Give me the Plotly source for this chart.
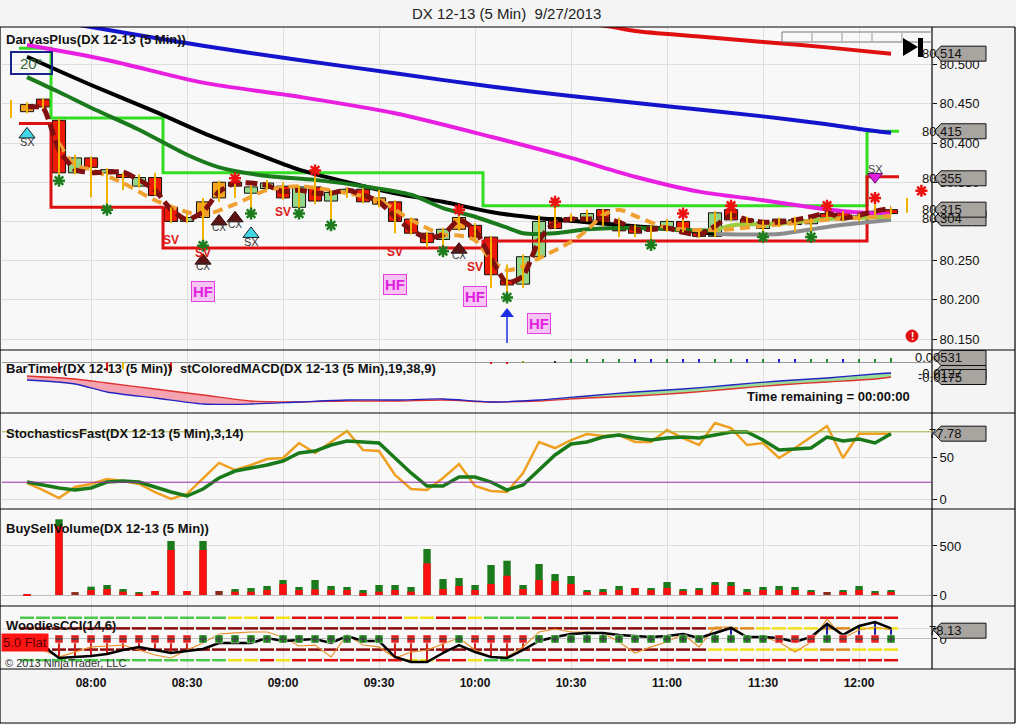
import pandas as pd
import plotly.graph_objects as go

FONT = "Arial, Liberation Sans, sans-serif"

# 5 minute bars, 07:40 .. 12:10
bar_times = pd.date_range("2013-09-27 07:40", "2013-09-27 12:10", freq="5min")
N = len(bar_times)

opens = [80.440, 80.456, 80.429, 80.362, 80.381, 80.362, 80.360, 80.345, 80.356, 80.318,
         80.300, 80.305, 80.330, 80.350, 80.336, 80.342, 80.345, 80.318, 80.344, 80.326,
         80.337, 80.341, 80.322, 80.325, 80.303, 80.285, 80.277, 80.290, 80.295, 80.280,
         80.225, 80.220, 80.255, 80.305, 80.305, 80.302, 80.315, 80.296, 80.292, 80.290,
         80.293, 80.300, 80.288, 80.281, 80.315, 80.303, 80.291, 80.303, 80.302, 80.297,
         80.310, 80.311, 80.307, 80.313, 80.310]
closes = [80.449, 80.446, 80.362, 80.381, 80.369, 80.366, 80.356, 80.356, 80.333, 80.300,
          80.305, 80.325, 80.350, 80.345, 80.344, 80.349, 80.330, 80.344, 80.326, 80.337,
          80.341, 80.325, 80.330, 80.300, 80.285, 80.273, 80.290, 80.305, 80.280, 80.232,
          80.219, 80.255, 80.300, 80.291, 80.302, 80.310, 80.298, 80.288, 80.285, 80.288,
          80.300, 80.287, 80.281, 80.311, 80.302, 80.298, 80.299, 80.298, 80.296, 80.302,
          80.305, 80.303, 80.304, 80.310, 80.315]
highs = [80.452, 80.457, 80.431, 80.385, 80.383, 80.368, 80.362, 80.360, 80.362, 80.318,
         80.310, 80.330, 80.352, 80.355, 80.346, 80.353, 80.350, 80.346, 80.365, 80.340,
         80.343, 80.342, 80.340, 80.327, 80.305, 80.287, 80.292, 80.315, 80.298, 80.281,
         80.245, 80.258, 80.308, 80.325, 80.310, 80.315, 80.316, 80.305, 80.296, 80.295,
         80.303, 80.310, 80.289, 80.313, 80.320, 80.306, 80.301, 80.305, 80.306, 80.304,
         80.320, 80.313, 80.310, 80.330, 80.318]
lows = [80.438, 80.444, 80.352, 80.360, 80.331, 80.315, 80.340, 80.343, 80.333, 80.298,
        80.298, 80.269, 80.325, 80.330, 80.310, 80.340, 80.328, 80.310, 80.322, 80.295,
        80.330, 80.323, 80.318, 80.285, 80.283, 80.267, 80.262, 80.288, 80.278, 80.215,
        80.203, 80.215, 80.250, 80.290, 80.300, 80.300, 80.294, 80.280, 80.280, 80.270,
        80.287, 80.286, 80.279, 80.280, 80.300, 80.294, 80.280, 80.293, 80.287, 80.280,
        80.303, 80.300, 80.300, 80.308, 80.309]
candle_col = list("orrgrgrgrr" "goorggrgrg" "grorrrgorr" "rggrrgrrrr" "grrgrrgrrg" "rrrrr")

# moving averages (bar index, value)
blue_idx = [0, 6, 11, 17, 23, 29, 34, 40, 46, 50, 52, 54]
blue_val = [80.562, 80.541, 80.524, 80.506, 80.489, 80.472, 80.460, 80.447, 80.434, 80.424, 80.418, 80.413]
red_idx = [30, 36, 38, 42, 46, 50, 54]
red_val = [80.560, 80.550, 80.543, 80.536, 80.529, 80.522, 80.514]
mag_idx = [0, 5, 11, 17, 23, 29, 34, 38, 42, 46, 49, 51, 54]
mag_val = [80.525, 80.506, 80.477, 80.459, 80.438, 80.408, 80.381, 80.357, 80.338, 80.327, 80.318, 80.313, 80.309]
black_idx = [0, 4, 8, 11, 14, 17, 20, 23, 26, 29, 32, 35, 38, 41, 43]
black_val = [80.510, 80.474, 80.440, 80.413, 80.389, 80.366, 80.350, 80.336, 80.325, 80.312, 80.304, 80.299, 80.294, 80.289, 80.284]
gray_idx = [43, 47, 50, 54]
gray_val = [80.284, 80.284, 80.293, 80.302]
dkgreen_idx = [0, 2, 4, 7, 10, 12, 15, 18, 21, 24, 26, 28, 30, 31, 33, 35, 38, 41, 43]
dkgreen_val = [80.484, 80.465, 80.445, 80.417, 80.385, 80.369, 80.358, 80.353, 80.345, 80.334,
               80.317, 80.306, 80.292, 80.285, 80.285, 80.290, 80.292, 80.289, 80.288]
olive_idx = [43, 44, 47, 50, 54]
olive_val = [80.288, 80.295, 80.297, 80.303, 80.306]
maroon = [80.446, 80.445, 80.391, 80.366, 80.362, 80.363, 80.363, 80.353, 80.340, 80.315,
          80.302, 80.312, 80.338, 80.349, 80.349, 80.346, 80.338, 80.340, 80.336, 80.336,
          80.340, 80.334, 80.325, 80.306, 80.289, 80.279, 80.283, 80.302, 80.289, 80.253,
          80.221, 80.230, 80.276, 80.299, 80.303, 80.303, 80.304, 80.299, 80.290, 80.290,
          80.292, 80.286, 80.283, 80.294, 80.308, 80.302, 80.299, 80.299, 80.302, 80.306,
          80.311, 80.304, 80.308, 80.313, 80.317]
orange_idx = [2, 3, 4, 6, 8, 10, 11, 13, 15, 17, 18, 20, 22, 24, 26, 27, 28, 29, 30, 31,
              32, 34, 35, 36, 37, 38, 40, 43, 46, 50, 54]
orange_val = [80.400, 80.372, 80.366, 80.349, 80.327, 80.312, 80.308, 80.322, 80.340, 80.345,
              80.343, 80.336, 80.327, 80.302, 80.283, 80.282, 80.276, 80.251, 80.238, 80.243,
              80.253, 80.274, 80.289, 80.308, 80.315, 80.307, 80.292, 80.289, 80.294, 80.302, 80.307]

# darvas boxes
box_start = [0, 2, 9, 29, 53]
box_top = [80.521, 80.432, 80.362, 80.320, 80.415]
box_bot = [80.425, 80.318, 80.266, 80.275, 80.357]

# signals
red_star_bars = [13, 18, 27, 33, 41, 44, 50, 53]
green_star_bars = [2, 5, 11, 14, 17, 19, 26, 30, 39, 46, 49]
sv_bars = [9, 11, 16, 23, 28]
sv_price = [80.276, 80.260, 80.312, 80.261, 80.242]
hf_bars = [11, 23, 28, 32]
hf_price = [80.210, 80.220, 80.204, 80.170]
cx_bars = [11, 12, 13, 27]
cx_price = [80.250, 80.300, 80.304, 80.264]
sx_up_bars = [0, 14]
sx_up_price = [80.411, 80.284]
sx_dn_bars = [53]
sx_dn_price = [80.357]
ghost_idx = [-1, 55]
ghost_lo = [80.432, 80.311]
ghost_hi = [80.455, 80.330]
ghost_star_idx = [55.9]
ghost_star_val = [80.339]

# stColoredMACD
macd_idx = [0, 3, 5, 8, 11, 14, 17, 20, 23, 26, 29, 32, 35, 38, 41, 44, 47, 50, 53, 54]
macd_val = [-0.0163, -0.0199, -0.0247, -0.0319, -0.0391, -0.0463, -0.0475, -0.0463, -0.0463, -0.0451,
            -0.0475, -0.0463, -0.0427, -0.0403, -0.0367, -0.0319, -0.0271, -0.0235, -0.0199, -0.0175]
signal_val = [-0.0211, -0.0259, -0.0355, -0.0427, -0.0499, -0.0499, -0.0475, -0.0451, -0.0451, -0.0439,
              -0.0475, -0.0451, -0.0403, -0.0355, -0.0319, -0.0271, -0.0223, -0.0187, -0.0139, -0.0127]
hist_bars = [2, 5, 6, 9, 29, 30, 31, 33] + list(range(34, 55))
hist_val = [-0.012, -0.011, -0.008, -0.011, -0.0012, -0.0008, 0.0008, 0.0008] + [0.004] * 20 + [0.0053]
hist_col = list("rryrrrod") + list("ggggbbgbbggbgbbggbggg")

# StochasticsFast
stoch_k = [19.0, 10.7, 1.2, 14.3, 17.9, 23.8, 21.4, 17.9, 8.3, 0.0, 6.0, 25.0, 42.9, 34.5, 40.5,
           47.6, 48.8, 66.7, 54.8, 67.9, 81.0, 58.3, 57.1, 28.6, 11.9, 10.7, 25.0, 41.7, 15.5, 9.5,
           8.3, 31.0, 67.9, 60.7, 70.2, 77.4, 75.0, 76.2, 67.9, 67.9, 82.1, 72.6, 64.3, 90.5, 84.5,
           64.3, 66.7, 48.8, 60.7, 73.8, 86.9, 48.8, 77.8, 77.8, 77.8]
stoch_d = [20.2, 16.7, 13.1, 10.7, 13.1, 20.2, 21.4, 20.2, 14.3, 8.3, 3.6, 11.9, 25.0, 33.3, 36.9,
           40.5, 45.2, 54.8, 57.1, 64.3, 69.0, 67.9, 66.7, 48.8, 31.0, 15.5, 15.5, 26.2, 26.2, 20.2,
           10.7, 16.7, 34.5, 52.4, 65.5, 67.9, 73.8, 76.2, 72.6, 70.2, 72.6, 73.8, 72.6, 76.2, 79.8,
           79.8, 70.2, 58.3, 59.5, 60.7, 73.8, 69.0, 71.4, 66.7, 77.8]

# BuySellVolume
vol_sell = [10, 0, 697, 0, 51, 61, 34, 15, 41, 459, 41, 459, 0, 34, 34, 51, 112, 51, 58, 51,
            51, 20, 34, 51, 34, 323, 61, 92, 51, 112, 197, 61, 153, 143, 112, 31, 31, 51, 71, 51,
            71, 41, 51, 102, 92, 31, 51, 51, 51, 31, 0, 31, 51, 21, 31]
vol_buy = [0, 0, 75, 0, 34, 41, 27, 16, 0, 92, 0, 92, 0, 27, 37, 41, 41, 31, 95, 41,
           31, 31, 68, 51, 48, 146, 102, 81, 51, 194, 153, 41, 163, 71, 82, 20, 30, 41, 0, 20,
           62, 20, 20, 31, 41, 30, 31, 41, 31, 20, 0, 20, 41, 20, 20]
vol_even = [0, 0, 0, 30, 0, 0, 0, 0, 0, 0, 0, 0, 41, 0, 0, 0, 0, 0, 0, 0,
            0, 0, 0, 0, 0, 0, 0, 0, 0, 0, 0, 0, 0, 0, 0, 0, 0, 0, 0, 0,
            0, 0, 0, 0, 0, 0, 0, 0, 0, 0, 31, 0, 0, 0, 0]

# WoodiesCCI
cci = [-28, -66, -179, -170, -160, -142, -104, -75, -104, -132, -113, -94, -38, -38, -38, 9, -19, -9,
       0, -38, 28, -19, -19, -170, -217, -217, -132, -57, -123, -170, -179, -104, -19, 19, 47, 57,
       57, 38, 28, 19, 28, 47, 9, 57, 104, 19, 19, 9, -28, 19, 142, 38, 123, 160, 100]
turbo = [-9, -104, -170, -123, -75, -66, -57, -104, -151, -179, -104, -38, 47, 57, 66, 66, 19, -66,
         -57, -170, 38, -57, -75, -179, -123, -104, -47, 9, -104, -170, -170, -75, 66, 94, 66, 66,
         57, -28, -132, -75, -28, 47, -75, 113, 113, 9, 19, -28, -123, -28, 189, 9, 85, 113, 85]
cci_sq = list("rrrrrrrrrrr" "gggggggggggg" "rrrr" "g" "rrrr" "ggggggggggggggg" "rrr" "g" "rrr" "g")
chop_col = list("ggggggggggggg" "yy" "r" "y" "rrrrrrr" "yy" "rr" "y" "ggg") + list("r" * 23)
p100_col = list("d" * 43) + list("oooyyyyooyyy")
m100_col = list("d" * 43) + list("yyyyyyyooyyy")

# ---------------------------------------------------------------- helpers
PLOT_L, PLOT_R, PLOT_T, PLOT_B = 2, 932, 27, 669


def ts(i):
    return (bar_times[0] + pd.Timedelta(minutes=5 * i)).strftime("%Y-%m-%d %H:%M:%S")


def px(x):
    return (x - PLOT_L) / (PLOT_R - PLOT_L)


def py(y):
    return (PLOT_B - y) / (PLOT_B - PLOT_T)


X = [ts(i) for i in range(N)]
P_RANGE = [80.136, 80.548]
M_RANGE = [-0.0607, 0.0149]
S_RANGE = [-11.9, 102.4]
V_RANGE = [-112, 877]
C_RANGE = [-283, 311]

fig = go.Figure()


def line(xs, ys, color, width, yaxis="y", dash=None, shape="spline", smoothing=0.8):
    fig.add_trace(go.Scatter(x=xs, y=ys, mode="lines", yaxis=yaxis, hoverinfo="skip",
                             line=dict(color=color, width=width, dash=dash, shape=shape,
                                       smoothing=smoothing if shape == "spline" else None)))


# ---------------------------------------------------------------- price panel
def step(levels):
    xs, ys = [], []
    for k, s in enumerate(box_start):
        e = box_start[k + 1] if k + 1 < len(box_start) else N
        xs += [ts(s - 0.5), ts(e - 0.5)]
        ys += [levels[k], levels[k]]
    return xs, ys


gx, gy = step(box_top)
line(gx, gy, "#33dd22", 3, shape="linear")
rx, ry = step(box_bot)
line(rx, ry, "#dd1111", 3, shape="linear")

body_colors = {"r": "#ee1a08", "g": "#92d68a", "o": "#f5a020"}
for c, fillc in body_colors.items():
    idx = [i for i in range(N) if candle_col[i] == c]
    fig.add_trace(go.Bar(
        x=[X[i] for i in idx],
        y=[max(abs(closes[i] - opens[i]), 0.0015) for i in idx],
        base=[min(opens[i], closes[i]) for i in idx],
        width=4.1 * 60000, marker=dict(color=fillc, line=dict(color="#111111", width=1)),
        hoverinfo="skip"))

line([ts(i) for i in blue_idx], blue_val, "#1414cc", 4)
line([ts(i) for i in red_idx], red_val, "#e01010", 4)
line([ts(i) for i in mag_idx], mag_val, "#e81ee0", 4)
line([ts(i) for i in black_idx], black_val, "#000000", 4)
line([ts(i) for i in gray_idx], gray_val, "#8c8c8c", 4)
line([ts(i) for i in dkgreen_idx], dkgreen_val, "#1b7a1b", 4)
line([ts(i) for i in olive_idx], olive_val, "#9ccc3a", 4)
line([ts(i) for i in orange_idx], orange_val, "#f0a030", 4, dash="10px,6px")
line(X, maroon, "#801010", 5, dash="12px,5px", smoothing=0.5)

wx, wy = [], []
for i in range(N):
    wx += [X[i], X[i], None]
    wy += [lows[i], highs[i], None]
for k, i in enumerate(ghost_idx):
    wx += [ts(i), ts(i), None]
    wy += [ghost_lo[k], ghost_hi[k], None]
line(wx, wy, "#f0b400", 2, shape="linear")

# open marker symbols take their stroke colour from marker.color
fig.add_trace(go.Scatter(
    x=[X[i] for i in red_star_bars] + [ts(i) for i in ghost_star_idx],
    y=[highs[i] for i in red_star_bars] + ghost_star_val, mode="markers", hoverinfo="skip",
    marker=dict(symbol="asterisk-open", size=10, color="#ee1111", line=dict(width=2.5))))
fig.add_trace(go.Scatter(
    x=[X[i] for i in green_star_bars], y=[lows[i] for i in green_star_bars], mode="markers",
    hoverinfo="skip",
    marker=dict(symbol="asterisk-open", size=10, color="#1d7d1d", line=dict(width=2.5))))

fig.add_trace(go.Scatter(
    x=[X[i] for i in cx_bars], y=cx_price, mode="markers", hoverinfo="skip",
    marker=dict(symbol="triangle-up", size=14, color="#5e1212", line=dict(color="#3a0a0a", width=1))))
fig.add_trace(go.Scatter(
    x=[X[i] for i in sx_up_bars], y=sx_up_price, mode="markers", hoverinfo="skip",
    marker=dict(symbol="triangle-up", size=14, color="#3fd6e6", line=dict(color="#222222", width=1))))
fig.add_trace(go.Scatter(
    x=[X[i] for i in sx_dn_bars], y=sx_dn_price, mode="markers", hoverinfo="skip",
    marker=dict(symbol="triangle-down", size=13, color="#e020e0", line=dict(color="#6a106a", width=1))))

# long-entry arrow
fig.add_trace(go.Scatter(x=[X[30], X[30]], y=[80.145, 80.180], mode="lines", hoverinfo="skip",
                         line=dict(color="#1a2ee6", width=1.5)))
fig.add_trace(go.Scatter(x=[X[30]], y=[80.182], mode="markers", hoverinfo="skip",
                         marker=dict(symbol="triangle-up", size=12, color="#1a2ee6")))

# ---------------------------------------------------------------- MACD panel
mx = [ts(i) for i in macd_idx]
left, right = slice(0, 7), slice(11, 20)
line(mx[left], signal_val[left], "rgba(0,0,0,0)", 0, yaxis="y2")
fig.add_trace(go.Scatter(x=mx[left], y=macd_val[left], yaxis="y2", mode="lines", fill="tonexty",
                         fillcolor="#f4a4b0", line=dict(width=0, shape="spline"), hoverinfo="skip"))
line(mx[right], macd_val[right], "rgba(0,0,0,0)", 0, yaxis="y2")
fig.add_trace(go.Scatter(x=mx[right], y=signal_val[right], yaxis="y2", mode="lines", fill="tonexty",
                         fillcolor="#98de98", line=dict(width=0, shape="spline"), hoverinfo="skip"))
line(mx, macd_val, "#e03030", 1.3, yaxis="y2")
line(mx, signal_val, "#2424c0", 1.3, yaxis="y2")
hcols = {"r": "#dd1111", "y": "#e8b800", "g": "#2a8a2a", "b": "#1a1ad0", "o": "#8a9a20", "d": "#333333"}
fig.add_trace(go.Bar(x=[X[i] for i in hist_bars], y=hist_val, yaxis="y2", width=36000,
                     marker=dict(color=[hcols[c] for c in hist_col], line=dict(width=0)),
                     hoverinfo="skip"))

# ---------------------------------------------------------------- stochastics
line(X, stoch_k, "#f0a020", 2.5, yaxis="y3", shape="linear")
line(X, stoch_d, "#1a7a1a", 3.5, yaxis="y3", shape="linear")

# ---------------------------------------------------------------- volume
vol_total = [vol_sell[i] + vol_buy[i] for i in range(N)]
fig.add_trace(go.Bar(x=X, y=vol_total, yaxis="y4", width=2.3 * 60000,
                     marker=dict(color="#1b7a1b", line=dict(width=0)), hoverinfo="skip"))
fig.add_trace(go.Bar(x=X, y=vol_sell, yaxis="y4", width=2.3 * 60000,
                     marker=dict(color="#ff1010", line=dict(width=0)), hoverinfo="skip"))
fig.add_trace(go.Bar(x=X, y=vol_even, yaxis="y4", width=2.3 * 60000,
                     marker=dict(color="#8e2a18", line=dict(width=0)), hoverinfo="skip"))

# ---------------------------------------------------------------- Woodies CCI
level_cols = {"g": "#4cc84c", "y": "#f2e21a", "r": "#e01010", "d": "#8a0a0a", "o": "#e08a20"}


def level_segments(level, cols):
    for c, colr in level_cols.items():
        xs, ys = [], []
        for i in range(N):
            if cols[i] == c:
                xs += [ts(i - 0.44), ts(i + 0.44), None]
                ys += [level, level, None]
        if xs:
            line(xs, ys, colr, 2.5, yaxis="y5", shape="linear")


level_segments(200, chop_col)
level_segments(-200, chop_col)
level_segments(100, p100_col)
level_segments(-100, m100_col)

sx_, sy_, bx_, by_ = [], [], [], []
for i in range(N):
    if cci[i] > 0:
        bx_ += [X[i], X[i], None]
        by_ += [0, cci[i], None]
    elif cci_sq[i] == "r":
        sx_ += [X[i], X[i], None]
        sy_ += [0, cci[i], None]
line(sx_, sy_, "#d01a1a", 2, yaxis="y5", shape="linear")
line(bx_, by_, "#1a1aa0", 2, yaxis="y5", shape="linear")
line(X, turbo, "#e8902a", 1.2, yaxis="y5", shape="linear")
line(X, cci, "#000000", 2.5, yaxis="y5", shape="linear")
for c, colr, sym in [("r", "#e02020", "line-ew"), ("g", "#1a8a1a", "cross-thin")]:
    idx = [i for i in range(N) if cci_sq[i] == c]
    fig.add_trace(go.Scatter(x=[X[i] for i in idx], y=[0] * len(idx), yaxis="y5", mode="markers",
                             hoverinfo="skip",
                             marker=dict(symbol="square", size=8, color=colr,
                                         line=dict(color="#ffffff", width=0.5))))
    fig.add_trace(go.Scatter(x=[X[i] for i in idx], y=[0] * len(idx), yaxis="y5", mode="markers",
                             hoverinfo="skip",
                             marker=dict(symbol=sym, size=5, color="#ffffff", line=dict(width=1.5))))

# ---------------------------------------------------------------- annotations
ann = []


def text(x, y, s, size=13, color="#111111", bold=False, anchor="left", **kw):
    ann.append(dict(xref="paper", yref="paper", x=px(x), y=py(y), text=f"<b>{s}</b>" if bold else s,
                    showarrow=False, xanchor=anchor, yanchor="middle",
                    font=dict(family=FONT, size=size, color=color), **kw))


text(506, 13, "DX 12-13 (5 Min)\u00a0\u00a09/27/2013", size=15, color="#222222", anchor="center")
text(4, 40, "DarvasPlus(DX 12-13 (5 Min))", bold=True)
text(4, 369, "BarTimer(DX 12-13 (5 Min))", bold=True)
text(178, 369, "stColoredMACD(DX 12-13 (5 Min),19,38,9)", bold=True)
text(4, 433, "StochasticsFast(DX 12-13 (5 Min),3,14)", bold=True)
text(4, 528, "BuySellVolume(DX 12-13 (5 Min))", bold=True)
text(4, 625, "WoodiesCCI(14,6)", bold=True)
text(3, 663, "© 2013 NinjaTrader, LLC", size=11, color="#333333")
text(745, 397, "Time remaining = 00:00:00", bold=True)
text(1, 642, "5.0 Flat", size=13, color="#5a0000", bgcolor="#ff1414", borderpad=1)
text(31, 63, "20°", size=15, color="#3a6a3a", anchor="center")

for b, p in zip(sv_bars, sv_price):
    ann.append(dict(x=X[b], y=p, xref="x", yref="y", text="<b>SV</b>", showarrow=False,
                    font=dict(family=FONT, size=12, color="#e01818")))
for b, p in zip(hf_bars, hf_price):
    ann.append(dict(x=X[b], y=p, xref="x", yref="y", text="<b>HF</b>", showarrow=False,
                    bgcolor="#f8c4f6", bordercolor="#e040e0", borderwidth=1, borderpad=1,
                    font=dict(family=FONT, size=15, color="#e020e0")))
for b, p in zip(cx_bars, cx_price):
    ann.append(dict(x=X[b], y=p, xref="x", yref="y", text="CX", showarrow=False, yshift=-6,
                    font=dict(family=FONT, size=10, color="#333333")))
for b, p in zip(sx_up_bars, sx_up_price):
    ann.append(dict(x=X[b], y=p, xref="x", yref="y", text="SX", showarrow=False, yshift=-8,
                    font=dict(family=FONT, size=11, color="#333333")))
for b, p in zip(sx_dn_bars, sx_dn_price):
    ann.append(dict(x=X[b], y=p, xref="x", yref="y", text="SX", showarrow=False, yshift=8,
                    font=dict(family=FONT, size=11, color="#444444")))

# ---------------------------------------------------------------- shapes
shapes = []


def seg(x0, y0, x1, y1, color="#000000", width=1.2):
    shapes.append(dict(type="line", xref="paper", yref="paper", x0=px(x0), y0=py(y0),
                       x1=px(x1), y1=py(y1), line=dict(color=color, width=width), layer="above"))


for yy in [27, 350, 413, 509, 606, 669]:
    seg(0, yy, 1015, yy)
seg(0, 27, 0, 723)
seg(1015, 27, 1015, 723)
seg(0, 723, 1015, 723)
seg(932, 27, 932, 669)

# top-right ruler and "go to end" icon
shapes.append(dict(type="rect", xref="paper", yref="paper", x0=px(782), x1=px(932), y0=py(42),
                   y1=py(32), line=dict(color="#777777", width=1)))
for xx in [812, 842, 872, 902]:
    seg(xx, 33, xx, 41, color="#999999", width=1)
shapes.append(dict(type="path", xref="paper", yref="paper",
                   path=f"M {px(903)},{py(38)} L {px(903)},{py(56)} L {px(918)},{py(47)} Z",
                   fillcolor="#000000", line=dict(width=0)))
shapes.append(dict(type="rect", xref="paper", yref="paper", x0=px(918), x1=px(923), y0=py(57),
                   y1=py(38), fillcolor="#000000", line=dict(width=0)))
shapes.append(dict(type="rect", xref="paper", yref="paper", x0=px(11), x1=px(52), y0=py(74),
                   y1=py(52), line=dict(color="#1a2388", width=2)))
shapes.append(dict(type="circle", xref="paper", yref="paper", x0=px(906), x1=px(918), y0=py(342),
                   y1=py(330), fillcolor="#e01010", line=dict(color="#e01010", width=1)))
text(912, 336, "!", size=10, color="#ffffff", bold=True, anchor="center")

# value tags on the right axis
def tag(yref, v, s, upp):
    h = 7.5 * upp
    x0, x1, x2 = px(934), px(941), px(986)
    shapes.append(dict(type="path", xref="paper", yref=yref,
                       path=f"M {x0},{v} L {x1},{v + h} L {x2},{v + h} L {x2},{v - h} L {x1},{v - h} Z",
                       fillcolor="#a8a4a0", line=dict(color="#111111", width=1), layer="above"))
    ann.append(dict(xref="paper", yref=yref, x=px(963.5), y=v, text=s, showarrow=False,
                    font=dict(family=FONT, size=13, color="#111111")))


for v in [80.514, 80.415, 80.355, 80.304, 80.315]:
    tag("y", v, f"{v:.3f}", 1 / 784)
tag("y2", -0.0127, "-0.0127", 0.0012)
tag("y2", 0.00531, "0.00531", 0.0012)
tag("y2", -0.0175, "-0.0175", 0.0012)
tag("y3", 77.78, "77.78", 1 / 0.84)
tag("y5", 78.13, "78.13", 1 / 0.106)

# stochastic reference lines
shapes.append(dict(type="line", xref="paper", yref="y3", x0=0, x1=1, y0=80, y1=80,
                   line=dict(color="#a4b43c", width=1)))
shapes.append(dict(type="line", xref="paper", yref="y3", x0=0, x1=1, y0=20, y1=20,
                   line=dict(color="#9a2aa8", width=1)))

# ---------------------------------------------------------------- layout
GRID = "#dedede"
yax = dict(side="right", anchor="x", showgrid=True, gridcolor=GRID, zeroline=False,
           ticks="outside", ticklen=4, tickcolor="#111111", showline=False, fixedrange=True,
           tickfont=dict(family=FONT, size=13, color="#111111"))

tick_times = pd.date_range("2013-09-27 08:00", "2013-09-27 12:00", freq="30min")
fig.update_layout(
    width=1016, height=725, autosize=False, showlegend=False, barmode="overlay",
    paper_bgcolor="#f4f4f4", plot_bgcolor="#f8f8f8",
    margin=dict(l=PLOT_L, r=1016 - PLOT_R, t=PLOT_T, b=725 - PLOT_B, autoexpand=False),
    xaxis=dict(domain=[0, 1], anchor="y5", type="date", range=[ts(-1.5625), ts(56.5625)],
               tickvals=[t.strftime("%Y-%m-%d %H:%M") for t in tick_times],
               ticktext=[f"<b>{t.strftime('%H:%M')}</b>" for t in tick_times],
               showgrid=True, gridcolor=GRID, zeroline=False, ticks="outside", ticklen=3,
               tickcolor="rgba(0,0,0,0)", showline=False, fixedrange=True,
               tickfont=dict(family=FONT, size=12, color="#111111")),
    yaxis=dict(yax, domain=[py(350), 1], range=P_RANGE,
               tickvals=[80.15, 80.20, 80.25, 80.30, 80.35, 80.40, 80.45, 80.50],
               ticktext=["80.150", "80.200", "80.250", "80.300", "80.350", "80.400", "80.450", "80.500"]),
    yaxis2=dict(yax, domain=[py(413), py(350)], range=M_RANGE, showticklabels=False, ticks="",
                showgrid=False, zeroline=True, zerolinecolor="#9a9a9a", zerolinewidth=1),
    yaxis3=dict(yax, domain=[py(509), py(413)], range=S_RANGE, tickvals=[0, 50]),
    yaxis4=dict(yax, domain=[py(606), py(509)], range=V_RANGE, tickvals=[0, 500],
                zeroline=True, zerolinecolor="#bdbdbd", zerolinewidth=1),
    yaxis5=dict(yax, domain=[0, py(606)], range=C_RANGE, tickvals=[0, 100],
                zeroline=True, zerolinecolor="#bdbdbd", zerolinewidth=1),
    annotations=ann, shapes=shapes,
)

# the page body has a default 8px margin; drop it so the figure sits at the window origin
fig.write_html("out.html", config={"displayModeBar": False},
               post_script="document.body.style.margin='0';")
